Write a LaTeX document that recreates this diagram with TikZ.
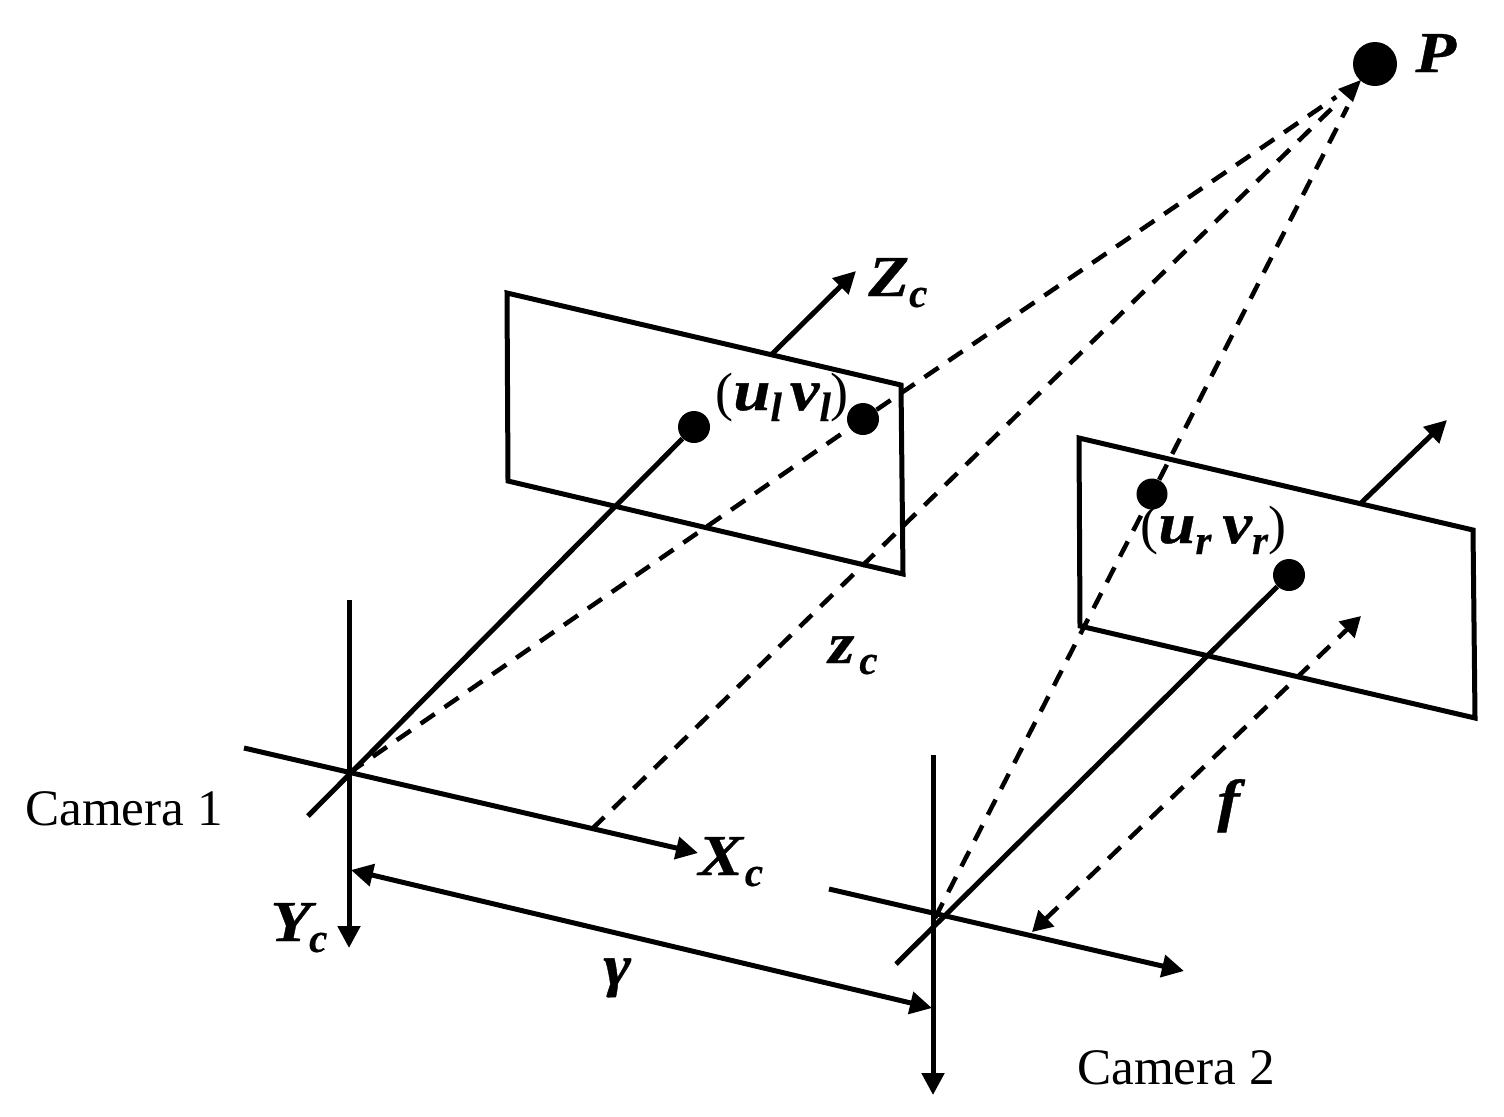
\documentclass[tikz,border=0pt]{standalone}
\usepackage{fontspec}
\setmainfont{Liberation Serif}
\newfontfamily\widefamily[FakeStretch=1.15,FakeBold=.6]{Liberation Serif}
\newfontfamily\subfamily[FakeBold=.4]{Liberation Serif}
\usetikzlibrary{arrows.meta}

\newcommand{\bigletter}[1]{{\widefamily\fontsize{29}{32}\selectfont\bfseries\itshape #1}}
\newcommand{\subletter}[1]{\raisebox{-5.5pt}{\subfamily\fontsize{20.5}{24}\selectfont\bfseries\itshape #1}}
\newcommand{\pairletter}[1]{{\fontsize{27}{30}\selectfont #1}}

\begin{document}
\begin{tikzpicture}[
  x=.5pt,
  y=-.5pt,
  axis line/.style={
    draw,
    line width=2.5pt,
    -{Triangle[length=11pt,width=11pt]}
  },
  both line/.style={
    axis line,
    {Triangle[length=11pt,width=11pt]}-{Triangle[length=11pt,width=11pt]}
  },
  dash line/.style={
    draw,
    line width=2.25pt,
    dash pattern=on 8.5pt off 6pt
  },
  plane/.style={
    draw,
    line width=2.5pt,
    line join=miter
  },
  small dot/.style={
    circle,
    fill=black,
    inner sep=0pt,
    minimum size=16pt
  },
  big dot/.style={
    circle,
    fill=black,
    inner sep=0pt,
    minimum size=22pt
  },
  math label/.style={
    inner sep=0pt,
    anchor=base west
  },
  cam label/.style={
    inner sep=0pt,
    anchor=base,
    font=\fontsize{25.6}{29}\selectfont
  },
]
\useasboundingbox (0,0) rectangle (1504,1116);

% left camera
\coordinate (origin1) at (349,773);
\coordinate (y1 top) at (349,600);
\coordinate (y1 end) at (349,948);
\coordinate (x1 start) at (244,748);
\coordinate (x1 end) at (698,853);
\coordinate (z1 start) at (308,816);
\coordinate (z1 out) at (772,354);
\coordinate (z1 end) at (856,271);
\coordinate (base1) at (592,829);
\draw[plane] (507,293) -- (901,385) -- (903,574) -- (508,481) -- cycle;
\node[small dot] (centre1) at (694,427) {};
\node[small dot] (ul) at (863,419) {};

% right camera
\coordinate (origin2) at (935,918);
\coordinate (y2 top) at (933,755);
\coordinate (y2 end) at (933,1095);
\coordinate (x2 start) at (829,889);
\coordinate (x2 end) at (1184,971);
\coordinate (z2 start) at (896,964);
\coordinate (z2 out) at (1361,503);
\coordinate (z2 end) at (1447,420);
\draw[plane] (1079,438) -- (1473,530) -- (1475,718) -- (1080,626) -- cycle;
\node[small dot] (centre2) at (1289,575) {};
\node[small dot,minimum size=15.5pt] (ur) at (1152,494) {};

\node[big dot] (P) at (1375,64) {};
\coordinate (P tip) at (1361,80);

% axes
\draw[axis line] (y1 top) -- (y1 end);
\draw[axis line] (x1 start) -- (x1 end);
\draw[axis line,-] (z1 start) -- (centre1);
\draw[axis line] (z1 out) -- (z1 end);
\draw[axis line] (y2 top) -- (y2 end);
\draw[axis line] (x2 start) -- (x2 end);
\draw[axis line,-] (z2 start) -- (centre2);
\draw[axis line] (z2 out) -- (z2 end);

% rays
\draw[dash line] (origin1) -- (ul);
\draw[dash line,shorten >=15pt] (ul) -- (P tip);
\draw[dash line,shorten >=15pt] (base1) -- (P tip);
\draw[dash line] (origin2) -- (ur);
\draw[dash line,shorten >=15pt] (ur) -- (P tip);
\fill (P tip) -- (1338,89) -- (1353,102) -- cycle;

% distances
\coordinate (f a) at (1032,932);
\coordinate (f b) at (1361,616);
\draw[dash line,{Triangle[length=10pt,width=11pt]}-{Triangle[length=10pt,width=11pt]}] (f a) -- (f b);
\coordinate (g a) at (351,870);
\coordinate (g b) at (932,1008);
\draw[both line] (g a) -- (g b);

% labels
\node[math label] (P label) at (1415,72) {\bigletter{P}};
\node[math label] (Zc label) at (868,296) {\bigletter{Z}\subletter{c}};
\node[math label] (Xc label) at (698,875) {\bigletter{X}\hspace{1pt}\subletter{c}};
\node[math label] (Yc label) at (270,941) {\bigletter{Y}\hspace{-1pt}\subletter{c}};
\node[math label] (zc label) at (828,663) {\bigletter{z}\hspace{2.5pt}\subletter{c}};
\node[math label] (gamma label) at (603,985) {\bigletter{γ}};
\node[math label] (f label) at (1217,820) {\bigletter{f}};
\node[math label] (ul label) at (715,410) {\pairletter{(}\bigletter{u}\subletter{l}\hspace{4pt}\bigletter{v}\subletter{l}\pairletter{)}};
\node[math label] (ur label) at (1140,543) {\pairletter{(}\bigletter{u}\subletter{r}\hspace{5.5pt}\bigletter{v}\subletter{r}\pairletter{)}};
\node[cam label] (cam1) at (124,825) {Camera 1};
\node[cam label] (cam2) at (1176,1084) {Camera 2};
\end{tikzpicture}
\end{document}
